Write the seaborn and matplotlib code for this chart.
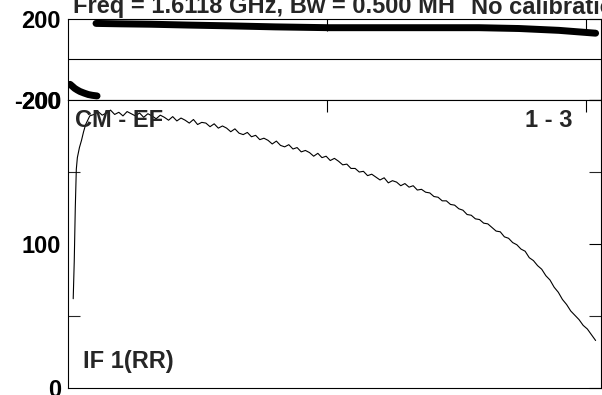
import numpy as np
import matplotlib
matplotlib.use("Agg")
import matplotlib.pyplot as plt
import seaborn as sns

# ---- data ----
# amplitude vs channel
amp_chan = np.concatenate([[10, 12, 14, 16, 18, 22, 26, 30, 34, 38], np.arange(42, 1020, 8)])
amp_vals = [62, 88, 125, 152, 160, 167, 172, 178, 183, 186,
            189, 190, 192, 189.5, 191, 193, 190, 191.5, 189, 192,
            190.5, 189, 191, 188, 190.5, 189, 187, 189.5, 188, 186,
            188.5, 185.5, 187.5, 186, 184, 186.5, 183, 184.5, 184, 181.5,
            183.5, 180.5, 182, 180.5, 178, 180, 177, 176, 177.5, 174.5,
            175.5, 172.5, 173.5, 172, 169.5, 171.5, 168.5, 167.5, 169, 166,
            167, 164, 165, 163.5, 161, 163, 160, 161, 158, 159.5,
            157.5, 155, 155.5, 152.5, 152.5, 150, 150.5, 147.5, 148.5, 146.5,
            144.5, 146, 142.5, 144, 143, 140.5, 142, 139.5, 140.5, 137.5,
            138, 136, 135.5, 133, 132.5, 130, 130, 127.5, 127, 124.5,
            123.5, 120.5, 120, 117.5, 117, 114.5, 114, 111.5,
            109, 108.5, 105, 104, 101, 99.5, 96.5, 95, 90.5, 88.5,
            85, 82.5, 78, 75, 70, 66.5, 61.5, 58, 53.5, 50.5,
            47.5, 43.5, 41, 37, 33]

# phase vs channel (wrapped part near the start, then main band)
ph_chan_a = [4, 9, 13, 18, 23, 31, 39, 47, 56]
ph_vals_a = [-123, -134, -143, -151, -158, -166, -173, -177, -180]
ph_chan_b = [54, 100, 160, 230, 312, 400, 503, 640, 793, 870, 947, 1018]
ph_vals_b = [176, 174, 172, 168, 164, 159, 155, 155, 155, 151, 142, 128]

title_left = "Freq = 1.6118 GHz, Bw = 0.500 MH"
title_right = "No calibration"
baseline_lbl = "CM - EF"
stokes_lbl = "IF 1(RR)"
page_lbl = "1 - 3"

# ---- style ----
sns.set_style("white")
plt.rcParams['font.family'] = ['Liberation Sans', 'DejaVu Sans']
plt.rcParams['font.weight'] = 'bold'

fig = plt.figure(figsize=(6.02, 3.95), dpi=100)
ax_ph = fig.add_axes([0.113, 0.7468, 0.885, 0.2063])
ax_amp = fig.add_axes([0.113, 0.0177, 0.885, 0.729])

lw = 0.8
FS = 17
tick_kw = dict(direction='in', length=8.5, width=lw, top=True, right=True,
               labelsize=FS, labelbottom=False, pad=5, colors='black')

# phase panel
sns.lineplot(x=ph_chan_a, y=ph_vals_a, ax=ax_ph, color='black', linewidth=5,
             estimator=None, sort=False)
sns.lineplot(x=ph_chan_b, y=ph_vals_b, ax=ax_ph, color='black', linewidth=5,
             estimator=None, sort=False)
ax_ph.axhline(0, color='black', linewidth=lw)
ax_ph.set_xlim(0, 1028)
ax_ph.set_ylim(-200, 200)
ax_ph.set_yticks([-200, 200])
ax_ph.set_yticklabels(["-200", "200"])
ax_ph.set_xticks([500, 1000])
ax_ph.tick_params(**tick_kw)
ax_ph.set_xlabel("")
ax_ph.set_ylabel("")

# amplitude panel
sns.lineplot(x=amp_chan, y=amp_vals, ax=ax_amp, color='black', linewidth=0.8,
             estimator=None, sort=False)
ax_amp.set_xlim(0, 1028)
ax_amp.set_ylim(0, 200)
ax_amp.set_yticks([0, 100, 200])
ax_amp.set_yticks([50, 150], minor=True)
ax_amp.set_xticks([500, 1000])
ax_amp.tick_params(**tick_kw)
ax_amp.tick_params(which='minor', direction='in', length=8.5, width=lw,
                   left=True, right=True)
ax_amp.set_xlabel("")
ax_amp.set_ylabel("")

for a in (ax_ph, ax_amp):
    for s in a.spines.values():
        s.set_color('black')
        s.set_linewidth(lw)
        s.set_visible(True)

ax_amp.text(0.013, 0.906, baseline_lbl, transform=ax_amp.transAxes,
            fontsize=FS, fontweight='bold', va='baseline', ha='left')
ax_amp.text(0.947, 0.906, page_lbl, transform=ax_amp.transAxes,
            fontsize=FS, fontweight='bold', va='baseline', ha='right')
ax_amp.text(0.028, 0.069, stokes_lbl, transform=ax_amp.transAxes,
            fontsize=FS, fontweight='bold', va='baseline', ha='left')

fig.text(73 / 602, 1 - 13.5 / 395, title_left, fontsize=17, fontweight='bold',
         va='baseline', ha='left')
fig.text(471 / 602, 1 - 13.5 / 395, title_right, fontsize=17, fontweight='bold',
         va='baseline', ha='left')

fig.savefig("out.png", dpi=100)
